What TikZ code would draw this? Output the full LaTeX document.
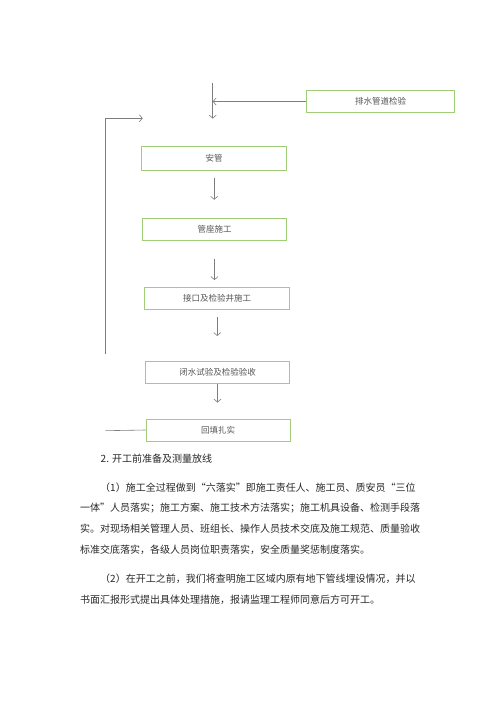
\documentclass[tikz,border=0pt]{standalone}
\usepackage{fontspec}
\setmainfont{Noto Sans CJK SC}
\usetikzlibrary{arrows.meta}

\definecolor{boxgreen}{RGB}{160,205,120}
\definecolor{linegray}{RGB}{125,125,125}
\definecolor{boxtext}{RGB}{85,85,85}
\definecolor{bodytext}{RGB}{40,40,40}

\tikzset{
  stepbox/.style={draw=boxgreen,line width=0.9pt,minimum height=22pt,inner sep=0pt,
                  font=\fontsize{8.5}{10}\selectfont,text=boxtext},
  arr/.style={draw=linegray,line width=0.6pt,-{Straight Barb[length=3pt,width=7pt]}},
  link/.style={draw=linegray,line width=0.6pt},
  bodyline/.style={anchor=west,inner sep=0pt,font=\fontsize{10}{12}\selectfont,text=bodytext}
}

\begin{document}
\begin{tikzpicture}[x=1pt,y=-1pt]
\useasboundingbox[fill=white] (0,0) rectangle (500,707);

% flow boxes
\node[stepbox,minimum width=147.6pt] (jianyan) at (380.5,101.5) {排水管道检验};
\node[stepbox,minimum width=145pt,minimum height=24pt] (anguan) at (214.2,158.7) {安管};
\node[stepbox,minimum width=144.4pt] (guanzuo) at (214.5,229.5) {管座施工};
\node[stepbox,minimum width=145pt] (jiekou) at (217.2,298.5) {接口及检验井施工};
\node[stepbox,minimum width=144.4pt] (bishui) at (217.5,372.7) {闭水试验及检验验收};
\node[stepbox,minimum width=144.3pt] (huitian) at (218.2,430) {回填扎实};

\coordinate (top) at (212.7,83);
\coordinate (loopbot) at (105.5,354);
\coordinate (loopend) at (142.7,118.3);
\coordinate (backin) at (105.5,430.7);

% connectors
\draw[arr,shorten >=27.7pt] (top) -- (top |- anguan.north);
\draw[arr] (jianyan.west) -- (top |- jianyan.west);
\draw[arr] (loopbot) |- (loopend);
\draw[link] (backin) -- (huitian.west);

\draw[arr] ([yshift=-6.6pt]anguan.south) -- ([yshift=18.3pt]anguan.south |- guanzuo.north);
\draw[arr] ([yshift=-17.6pt]guanzuo.south) -- ([yshift=7pt]guanzuo.south |- jiekou.north);
\draw[arr] ([yshift=-7.4pt]jiekou.south) -- ([yshift=25.3pt]jiekou.south |- bishui.north);
\draw[arr] (bishui.south) -- ([yshift=16pt]bishui.south |- huitian.north);

% text below
\node[bodyline] (head) at (100.5,458.3) {2. 开工前准备及测量放线};

\node[bodyline] (p1a) at (100,488) {（1）施工全过程做到“六落实”即施工责任人、施工员、质安员“三位};
\node[bodyline] (p1b) at (80,508.5) {一体”人员落实；施工方案、施工技术方法落实；施工机具设备、检测手段落};
\node[bodyline] (p1c) at (80,529) {实。对现场相关管理人员、班组长、操作人员技术交底及施工规范、质量验收};
\node[bodyline] (p1d) at (80,549.5) {标准交底落实，各级人员岗位职责落实，安全质量奖惩制度落实。};

\node[bodyline] (p2a) at (100,578.5) {（2）在开工之前，我们将查明施工区域内原有地下管线埋设情况，并以};
\node[bodyline] (p2b) at (80,600) {书面汇报形式提出具体处理措施，报请监理工程师同意后方可开工。};

\end{tikzpicture}
\end{document}
